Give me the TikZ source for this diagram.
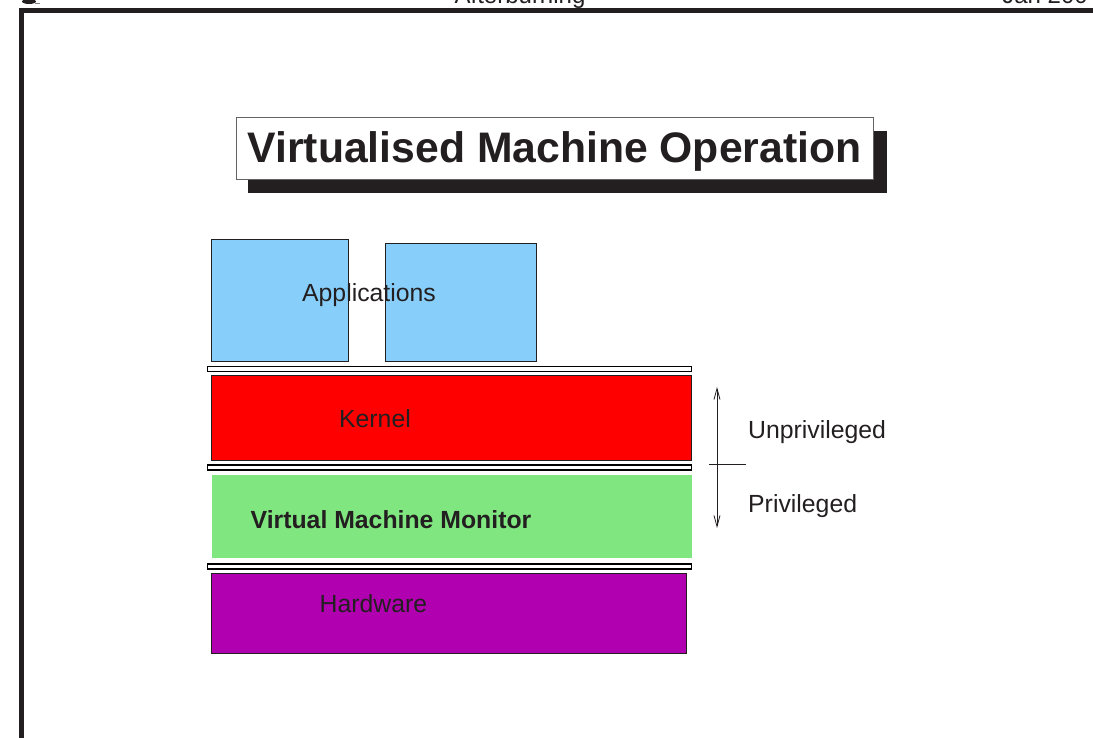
\documentclass[tikz,border=0pt]{standalone}
\usepackage{fontspec}
\setmainfont{Liberation Sans}
\usetikzlibrary{arrows.meta}
\definecolor{inkc}{RGB}{35,31,32}
\definecolor{appc}{RGB}{135,206,250}
\definecolor{kernc}{RGB}{255,0,0}
\definecolor{vmmc}{RGB}{128,230,128}
\definecolor{hwc}{RGB}{176,0,176}
\tikzset{
  layer/.style={draw=inkc, line width=1pt, inner sep=0pt, anchor=north west},
  sepbar/.style={draw=black, fill=white, line width=1.4pt, inner sep=0pt,
    anchor=north west, minimum width=484pt, minimum height=5pt},
  lbl/.style={inner sep=0pt, anchor=base, text=inkc, font=\fontsize{24.8}{28}\selectfont},
  frameline/.style={draw=inkc, line width=5pt},
}
\begin{document}
\begin{tikzpicture}[x=1pt, y=-1pt]
\useasboundingbox (0,0) rectangle (1093,738);
\begin{scope}
\clip (0,0) rectangle (1093,738);
% running header, mostly off the page
\node[lbl, font=\fontsize{24}{28}\selectfont] (hdr) at (520,3.5) {Afterburning};
\node[lbl, anchor=base east, font=\fontsize{24}{28}\selectfont] (date) at (1088,3.5) {Jan 200};
\fill[inkc] (29,1.5) ellipse (7pt and 2.5pt);
\draw[gray, line width=0.8pt] (35,3) -- (40,3);
% slide frame
\draw[frameline] (19,10.5) -- (1100,10.5);
\draw[frameline] (21.5,8) -- (21.5,745);
\end{scope}

% title with drop shadow
\node[fill=inkc, minimum width=639pt, minimum height=62pt, inner sep=0pt] (shadow) at (567.5,162) {};
\node[draw=inkc!70, line width=1pt, fill=white, minimum width=637pt, minimum height=62pt, inner sep=0pt] (title) at (554.5,149) {};
\node[lbl, font=\bfseries\fontsize{42.7}{48}\selectfont] (ttext) at (554.5,162.5) {Virtualised Machine Operation};

% applications
\node[layer, fill=appc, minimum width=137pt, minimum height=122pt] (app1) at (211,239) {};
\node[layer, fill=appc, minimum width=151pt, minimum height=118pt] (app2) at (385,243) {};
\node[lbl] (applbl) at (369,301.5) {Applications};

% layers and separators
\node[sepbar] (bar1) at (207,365.5) {};
\node[layer, fill=kernc, minimum width=480pt, minimum height=85pt] (kern) at (211,375) {};
\node[lbl] (kernlbl) at (375,427) {Kernel};
\node[sepbar] (bar2) at (207,464.3) {};
\node[layer, draw=none, fill=vmmc, minimum width=480pt, minimum height=83pt] (vmm) at (211.5,474.5) {};
\node[lbl, font=\bfseries\fontsize{24.8}{28}\selectfont] (vmmlbl) at (391,528) {Virtual Machine Monitor};
\node[sepbar] (bar3) at (207,563.3) {};
\node[layer, fill=hwc, minimum width=475pt, minimum height=80pt] (hw) at (211,572.5) {};
\node[lbl] (hwlbl) at (373.5,612) {Hardware};

% privilege boundary
\coordinate (ptop) at (717,387);
\coordinate (pbot) at (717,528);
\coordinate (bl) at (709,464);
\coordinate (br) at (746,464);
\draw[inkc, line width=0.8pt, {Straight Barb[length=11pt,width=6pt]}-{Straight Barb[length=11pt,width=6pt]}] (ptop) -- (pbot);
\draw[inkc, line width=0.8pt] (bl) -- (br);
\node[lbl, anchor=base west] (unpriv) at (748,438) {Unprivileged};
\node[lbl, anchor=base west] (priv) at (748,512) {Privileged};
\end{tikzpicture}
\end{document}
